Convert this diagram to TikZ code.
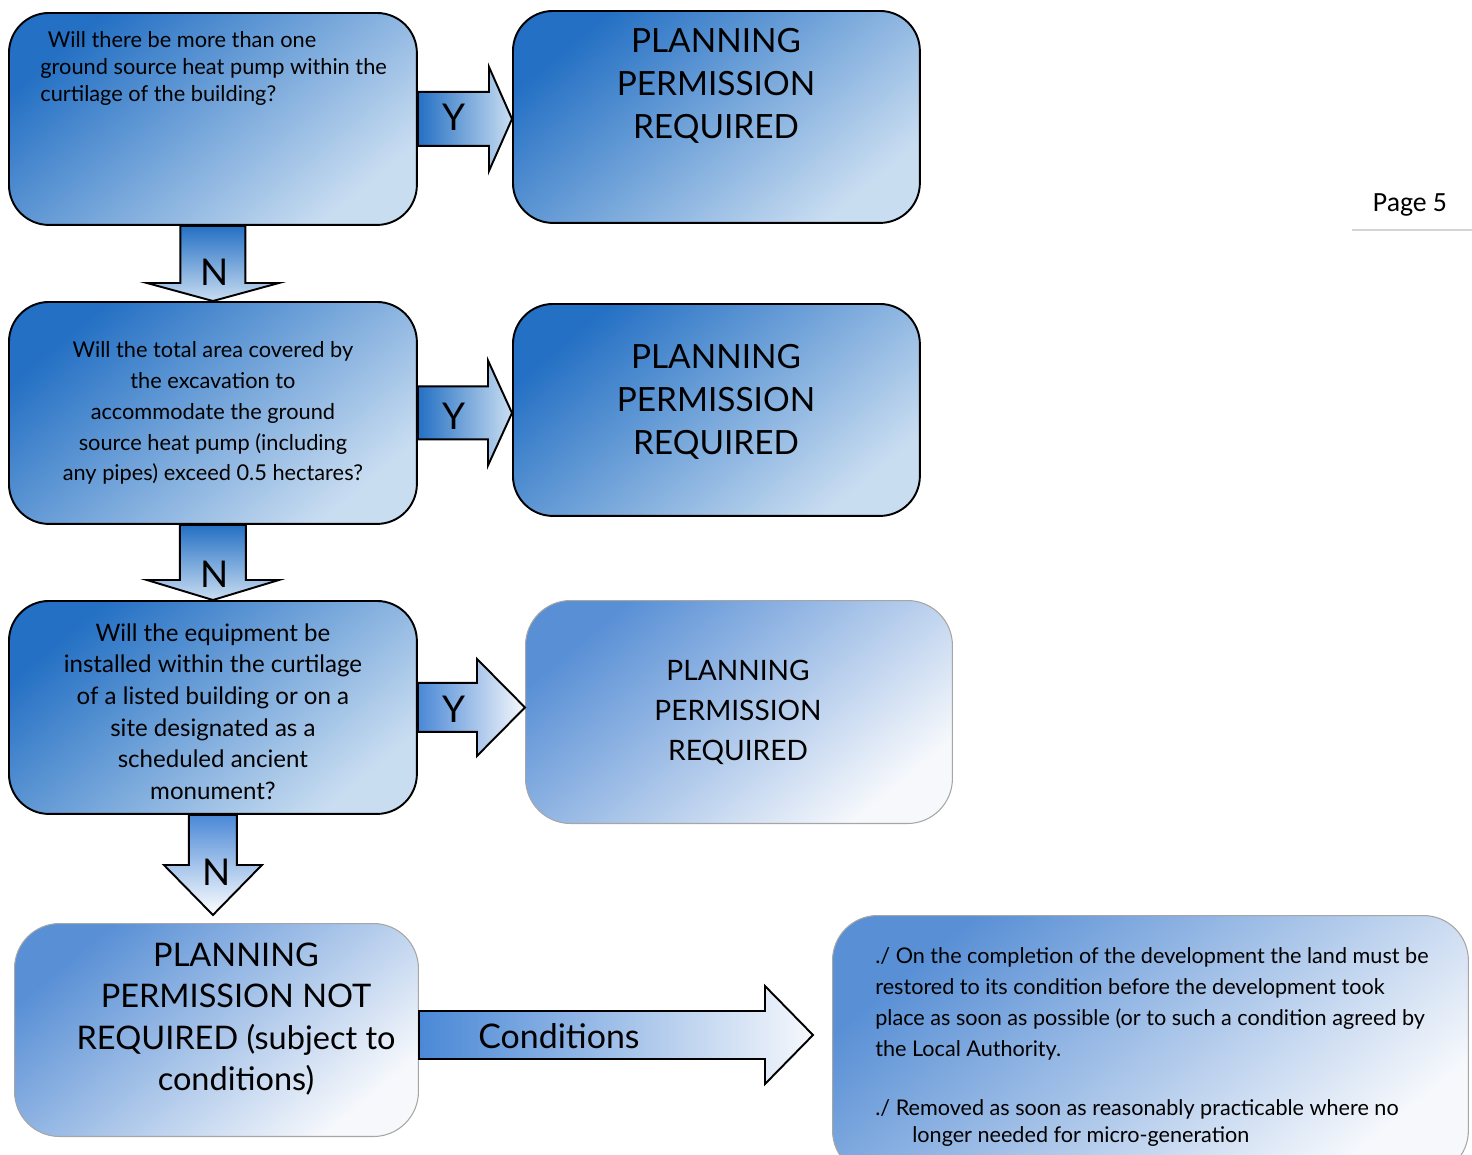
\documentclass[tikz,border=0pt]{standalone}
\usepackage{fontspec}
\setmainfont{Lato}
\newfontfamily\pagefont{Carlito}
\usetikzlibrary{calc}

\definecolor{boxdark}{RGB}{36,112,196}
\definecolor{boxpale}{RGB}{201,221,241}
\definecolor{boxmid}{RGB}{88,143,213}
\definecolor{boxwhite}{RGB}{246,248,252}
\definecolor{arrowmid}{RGB}{74,136,214}
\definecolor{rulegray}{RGB}{212,212,212}

\tikzset{
  darkbox/.style={draw=black, line width=1.1pt, rounded corners=0.8cm, inner sep=0pt,
    top color=boxdark, bottom color=boxpale, shading angle=40},
  lightbox/.style={draw=gray!70, line width=0.6pt, rounded corners=0.9cm, inner sep=0pt,
    top color=boxmid, bottom color=boxwhite, shading angle=40},
  qtext/.style={align=center, inner sep=0pt, font=\fontsize{12.4}{17.6}\selectfont},
  ptext/.style={align=center, inner sep=0pt, font=\fontsize{19}{24.5}\selectfont},
  yn/.style={inner sep=0pt, font=\fontsize{21}{24}\selectfont},
  yarrow/.style={draw=black, line width=1.1pt, left color=boxdark, right color=boxpale},
  narrow/.style={draw=black, line width=1.1pt, top color=boxdark, bottom color=boxpale},
  softarrow/.style={draw=black, line width=1.1pt, left color=arrowmid, right color=boxwhite},
  softdown/.style={draw=black, line width=1.1pt, top color=arrowmid, bottom color=white},
  right block/.style n args={3}{to path={
    let \p1=(\tikztostart), \p2=(\tikztotarget) in
    (\x1,{\y1+#1}) -- ({\x2-#3},{\y1+#1}) -- ({\x2-#3},{\y1+#2}) -- (\x2,\y1)
    -- ({\x2-#3},{\y1-#2}) -- ({\x2-#3},{\y1-#1}) -- (\x1,{\y1-#1}) -- cycle}},
  down block/.style n args={3}{to path={
    let \p1=(\tikztostart), \p2=(\tikztotarget) in
    ({\x1+#1},\y1) -- ({\x1+#1},{\y2+#3}) -- ({\x1+#2},{\y2+#3}) -- (\x1,\y2)
    -- ({\x1-#2},{\y2+#3}) -- ({\x1-#1},{\y2+#3}) -- ({\x1-#1},\y1) -- cycle}},
}

\begin{document}
\begin{tikzpicture}[x=0.02cm, y=-0.02cm]
\useasboundingbox (0,0) rectangle (1472,1154);
\clip (0,0) rectangle (1472,1154);

% question boxes
\node[darkbox, anchor=north west, minimum width=8.16cm, minimum height=4.24cm] (q1) at (8,12) {};
\node[darkbox, anchor=north west, minimum width=8.16cm, minimum height=4.44cm] (q2) at (8,301) {};
\node[darkbox, anchor=north west, minimum width=8.16cm, minimum height=4.26cm] (q3) at (8,600) {};
\node[lightbox, anchor=north west, minimum width=8.08cm, minimum height=4.26cm] (q4) at (14,923) {};

% answer boxes
\node[darkbox, anchor=north west, minimum width=8.14cm, minimum height=4.24cm] (r1) at (512,10) {};
\node[darkbox, anchor=north west, minimum width=8.14cm, minimum height=4.24cm] (r2) at (512,303) {};
\node[lightbox, anchor=north west, minimum width=8.54cm, minimum height=4.46cm] (r3) at (525,600) {};
\node[lightbox, anchor=north west, minimum width=12.72cm, minimum height=5.2cm] (c5) at (832,915) {};

% texts
\node[qtext, align=left, anchor=north west, font=\fontsize{12.4}{15.4}\selectfont] (q1t) at (40,31)
  {\hspace{0.35em}Will there be more than one\\ground source heat pump within the\\curtilage of the building?};
\node[qtext] (q2t) at (q2.center)
  {Will the total area covered by\\the excavation to\\accommodate the ground\\source heat pump (including\\any pipes) exceed 0.5 hectares?};
\node[qtext, font=\fontsize{13.7}{18}\selectfont] (q3t) at ($(q3.center)+(0,4)$)
  {Will the equipment be\\installed within the curtilage\\of a listed building or on a\\site designated as a\\scheduled ancient\\monument?};
\node[ptext] (r1t) at (716,86) {PLANNING\\PERMISSION\\REQUIRED};
\node[ptext] (r2t) at (716,402) {PLANNING\\PERMISSION\\REQUIRED};
\node[ptext, font=\fontsize{16}{22.8}\selectfont] (r3t) at (738,712) {PLANNING\\PERMISSION\\REQUIRED};
\node[ptext, font=\fontsize{18.5}{23.5}\selectfont] (q4t) at (236,1019)
  {PLANNING\\PERMISSION NOT\\REQUIRED (subject to\\conditions)};
\node[qtext, align=left, anchor=west, font=\fontsize{12.3}{17.6}\selectfont] (c5t) at (875,1047)
  {./ On the completion of the development the land must be\\
   restored to its condition before the development took\\
   place as soon as possible (or to such a condition agreed by\\
   the Local Authority.\\[0.56cm]
   ./ Removed as soon as reasonably practicable where no\\[-0.08cm]
   \hspace*{0.74cm}longer needed for micro-generation};

% block arrows
\path[yarrow] (q1.east) to[right block={0.54cm}{1.04cm}{0.46cm}] (r1.west);
\path[yarrow] (q2.east) to[right block={0.53cm}{1.05cm}{0.48cm}] (r2.west);
\path[softarrow] (q3.east) to[right block={0.49cm}{0.97cm}{0.96cm}] (r3.west);
\path[softarrow] ($(q4.east)+(0,5)$) to[right block={0.48cm}{0.98cm}{0.96cm}] ($(c5.west)+(-19,0)$);
\path[narrow] (q1.south) to[down block={0.65cm}{1.32cm}{0.36cm}] (q2.north);
\path[narrow] (q2.south) to[down block={0.66cm}{1.32cm}{0.4cm}] (q3.north);
\path[softdown] (q3.south) to[down block={0.48cm}{0.98cm}{1cm}] ($(q4.north)+(0,-8)$);

% arrow labels
\node[yn] (y1) at ($(q1.east)+(36,-2)$) {Y};
\node[yn] (y2) at ($(q2.east)+(36,3)$) {Y};
\node[yn] (y3) at ($(q3.east)+(36,2)$) {Y};
\node[yn] (n1) at ($(q1.south)+(2,46)$) {N};
\node[yn] (n2) at ($(q2.south)+(2,49)$) {N};
\node[yn] (n3) at ($(q3.south)+(4,57)$) {N};
\node[yn, font=\fontsize{19.3}{22}\selectfont] (cond) at (559,1036) {Conditions};

% page number
\node[font=\pagefont\fontsize{15.8}{18}\selectfont, inner sep=0pt] (pg) at (1410,205) {Page 5};
\draw[rulegray, line width=1.2pt] (1352,230) -- (1472,230);
\end{tikzpicture}
\end{document}
